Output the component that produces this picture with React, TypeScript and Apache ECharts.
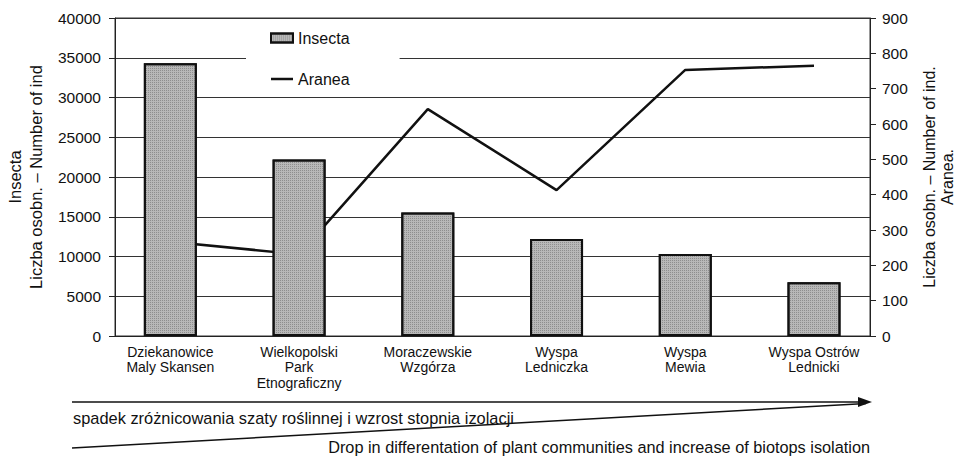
import React, { useEffect, useRef } from "react";
import * as echarts from "echarts";

const categories = [
  "Dziekanowice\nMaly Skansen",
  "Wielkopolski\nPark\nEtnograficzny",
  "Moraczewskie\nWzgórza",
  "Wyspa\nLedniczka",
  "Wyspa\nMewia",
  "Wyspa Ostrów\nLednicki",
];
const insecta = [34300, 22200, 15550, 12200, 10300, 6750];
const aranea = [267, 231, 642, 413, 753, 765];
const leftTicks = { min: 0, max: 40000, interval: 5000 };
const rightTicks = { min: 0, max: 900, interval: 100 };

const FONT = "'Liberation Sans', Arial, sans-serif";

export default function App() {
  const ref = useRef<HTMLDivElement>(null);
  useEffect(() => {
    document.body.style.margin = "0";
    document.documentElement.style.overflow = "hidden";
    document.body.style.overflow = "hidden";
    const chart = echarts.init(ref.current!, null, { renderer: "svg", width: 958, height: 458 });
    chart.setOption({
      animation: false,
      backgroundColor: "#fff",
      textStyle: { fontFamily: FONT, color: "#111" },
      grid: {
        left: 115,
        right: 88,
        top: 18,
        bottom: 122,
        show: true,
        borderColor: "#333",
        borderWidth: 1,
        containLabel: false,
        outerBoundsMode: "none",
      },
      legend: {
        orient: "vertical",
        left: 246,
        top: 23,
        itemWidth: 22,
        itemHeight: 9,
        itemGap: 25,
        padding: [7, 50, 10, 24],
        backgroundColor: "#fff",
        textStyle: { fontFamily: FONT, fontSize: 16, color: "#111" },
        data: [
          { name: "Insecta", icon: "rect" },
          { name: "Aranea", icon: "path://M0,0 L22,0 L22,2.5 L0,2.5 Z", itemStyle: { color: "#111" } },
        ],
      },
      xAxis: {
        type: "value",
        min: -0.43,
        max: 5.435,
        axisLine: { show: true, onZero: false, lineStyle: { color: "#222", width: 1 } },
        axisTick: { show: false },
        splitLine: { show: false },
        axisLabel: {
          customValues: [0, 1, 2, 3, 4, 5],
          formatter: (v: number) => categories[Math.round(v)] ?? "",
          fontFamily: FONT,
          fontSize: 14,
          color: "#111",
          lineHeight: 15.5,
          margin: 8,
        },
      },
      yAxis: [
        {
          type: "value",
          ...leftTicks,
          position: "left",
          name: "Insecta\nLiczba osobn. – Number of ind",
          nameLocation: "middle",
          nameRotate: 90,
          nameGap: 64,
          nameTextStyle: { fontFamily: FONT, fontSize: 16.5, color: "#111", lineHeight: 21 },
          axisLine: { show: true, onZero: false, lineStyle: { color: "#222" } },
          axisTick: { show: true, length: 6, lineStyle: { color: "#222" } },
          axisLabel: {
            fontFamily: FONT,
            fontSize: 15.5,
            color: "#111",
            margin: 14,
            formatter: (v: number) => String(v),
          },
          splitLine: { show: true, lineStyle: { color: "#333", width: 1 } },
        },
        {
          type: "value",
          ...rightTicks,
          position: "right",
          name: "Liczba osobn. – Number of ind.\nAranea.",
          nameLocation: "middle",
          nameRotate: 90,
          nameGap: 50,
          nameTextStyle: { fontFamily: FONT, fontSize: 16, color: "#111", lineHeight: 18 },
          axisLine: { show: true, onZero: false, lineStyle: { color: "#222" } },
          axisTick: { show: true, length: 6, lineStyle: { color: "#222" } },
          axisLabel: {
            fontFamily: FONT,
            fontSize: 15.5,
            color: "#111",
            margin: 12,
            formatter: (v: number) => String(v),
          },
          splitLine: { show: false },
        },
      ],
      series: [
        {
          name: "Insecta",
          type: "bar",
          yAxisIndex: 0,
          barWidth: 53,
          z: 3,
          data: insecta.map((v, i) => [i, v]),
          itemStyle: {
            color: "#b8b8b8",
            borderColor: "#111",
            borderWidth: 2,
            decal: {
              symbol: "rect",
              symbolSize: 1,
              color: "rgba(90,90,90,0.45)",
              dashArrayX: [1, 1],
              dashArrayY: [1, 1],
              rotation: 0,
            },
          },
        },
        {
          name: "Aranea",
          type: "line",
          yAxisIndex: 1,
          z: 2,
          symbol: "none",
          data: aranea.map((v, i) => [i, v]),
          lineStyle: { color: "#111", width: 2.5 },
          itemStyle: { color: "#111" },
        },
      ],
      graphic: [
        {
          type: "line",
          shape: { x1: 72, y1: 402, x2: 862, y2: 402 },
          style: { stroke: "#111", lineWidth: 1.5 },
        },
        {
          type: "polygon",
          shape: { points: [[858, 397], [872, 402], [858, 407]] },
          style: { fill: "#111" },
        },
        {
          type: "line",
          shape: { x1: 72, y1: 448, x2: 866, y2: 403.5 },
          style: { stroke: "#111", lineWidth: 1.5 },
        },
        {
          type: "text",
          left: 73,
          top: 410,
          style: {
            text: "spadek zróżnicowania szaty roślinnej i wzrost stopnia izolacji",
            font: `16.4px ${FONT}`,
            fill: "#111",
          },
        },
        {
          type: "text",
          right: 88,
          top: 439,
          style: {
            text: "Drop in differentation of plant communities and increase of biotops isolation",
            font: `16.3px ${FONT}`,
            fill: "#111",
          },
        },
      ],
    });
    return () => chart.dispose();
  }, []);
  return <div ref={ref} style={{ width: 958, height: 458 }} />;
}
